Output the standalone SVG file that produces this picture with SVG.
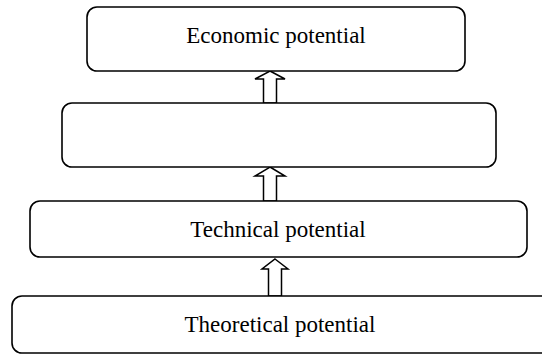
<svg xmlns="http://www.w3.org/2000/svg" width="542" height="356" viewBox="0 0 542 356">
<style>
.box{fill:#fff;stroke:#000;stroke-width:1.6}
.arr{fill:#fff;stroke:#000;stroke-width:1.5;stroke-linejoin:miter}
.lbl{font-family:"Liberation Serif","Times New Roman",serif;font-size:23px;fill:#000;text-anchor:middle}
</style>
<rect width="542" height="356" fill="#fff"/>
<g id="connectors">
<polygon class="arr" points="270,71 285,79 276.5,79 276.5,103 263.5,103 263.5,79 255,79"/>
<polygon class="arr" points="270,167 285,176 276.5,176 276.5,201 263.5,201 263.5,176 255,176"/>
<polygon class="arr" points="275,259 288,269 281.5,269 281.5,296 268.5,296 268.5,269 262,269"/>
</g>
<g id="economic">
<rect class="box" x="87" y="7" width="378" height="64" rx="10"/>
<text class="lbl" x="276" y="43">Economic potential</text>
</g>
<g id="blank">
<rect class="box" x="62" y="103" width="434" height="64" rx="10"/>
</g>
<g id="technical">
<rect class="box" x="30" y="201" width="497" height="56" rx="10"/>
<text class="lbl" x="278" y="237">Technical potential</text>
</g>
<g id="theoretical">
<rect class="box" x="12" y="296" width="540" height="57" rx="10"/>
<text class="lbl" x="280" y="332">Theoretical potential</text>
</g>
</svg>
